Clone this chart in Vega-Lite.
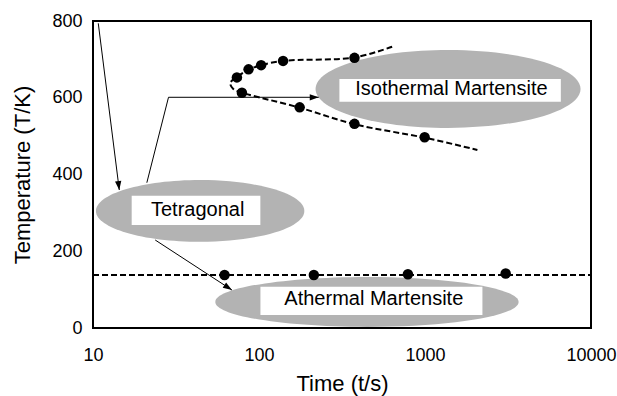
{
  "$schema": "https://vega.github.io/schema/vega-lite/v6.json",
  "width": 498,
  "height": 307,
  "autosize": {"type": "none"},
  "padding": {"left": 93, "top": 21, "right": 26, "bottom": 68},
  "background": "white",
  "config": {
    "view": {"stroke": "black", "strokeWidth": 2},
    "font": "Liberation Sans",
    "axis": {
      "grid": false,
      "domain": false,
      "ticks": false,
      "labelColor": "black",
      "titleColor": "black",
      "labelFontSize": 18,
      "titleFontSize": 22,
      "titleFontWeight": "normal",
      "labelFont": "Liberation Sans",
      "titleFont": "Liberation Sans"
    }
  },
  "datasets": {
    "curve": [
      {"t": 634, "T": 733, "o": 1},
      {"t": 376, "T": 705, "o": 2},
      {"t": 140, "T": 696, "o": 3},
      {"t": 103, "T": 685, "o": 4},
      {"t": 86.5, "T": 673, "o": 5},
      {"t": 73.6, "T": 654, "o": 6},
      {"t": 67.1, "T": 638, "o": 7},
      {"t": 70, "T": 623, "o": 8},
      {"t": 78.2, "T": 614, "o": 9},
      {"t": 176, "T": 574, "o": 10},
      {"t": 376, "T": 531, "o": 11},
      {"t": 995, "T": 496, "o": 12},
      {"t": 2068, "T": 464, "o": 13}
    ],
    "athermal": [
      {"t": 10, "T": 138},
      {"t": 10000, "T": 138}
    ],
    "dots": [
      {"t": 73.6, "T": 653},
      {"t": 86.5, "T": 674},
      {"t": 103, "T": 685},
      {"t": 139.6, "T": 696},
      {"t": 376, "T": 704},
      {"t": 78.9, "T": 613},
      {"t": 175.8, "T": 575},
      {"t": 376, "T": 532},
      {"t": 995, "T": 497},
      {"t": 62, "T": 138},
      {"t": 214, "T": 138},
      {"t": 789, "T": 140},
      {"t": 3062, "T": 142}
    ],
    "ellipses": [
      {"name": "Tetragonal", "t": 44.2, "T": 305},
      {"name": "Isothermal", "t": 1377, "T": 623},
      {"name": "Athermal", "t": 447, "T": 68}
    ],
    "boxes": [
      {"label": "Tetragonal", "t": 17.1, "t2": 101.9, "T": 268.4, "T2": 344.8, "tc": 42.7, "Tc": 307.5},
      {"label": "Isothermal Martensite", "t": 305, "t2": 6580, "T": 589.7, "T2": 648.9, "tc": 1443, "Tc": 622.8},
      {"label": "Athermal Martensite", "t": 102, "t2": 2218, "T": 33.9, "T2": 107.6, "tc": 491.6, "Tc": 75.6}
    ],
    "arrows": [
      {"a": "A1", "o": 1, "t": 10.76, "T": 794},
      {"a": "A1", "o": 2, "t": 14.4, "T": 359.6},
      {"a": "A2", "o": 1, "t": 21.1, "T": 378.6},
      {"a": "A2", "o": 2, "t": 28.5, "T": 601.2},
      {"a": "A2", "o": 3, "t": 229, "T": 601.2},
      {"a": "A3", "o": 1, "t": 23.7, "T": 229.3},
      {"a": "A3", "o": 2, "t": 68.7, "T": 99}
    ],
    "heads": [
      {"a": "A1", "t": 14.4, "T": 359.6},
      {"a": "A2", "t": 229, "T": 601.2},
      {"a": "A3", "t": 68.7, "T": 99}
    ],
    "xticks": [
      {"t": 20, "kind": "minor"}, {"t": 30, "kind": "minor"}, {"t": 40, "kind": "minor"}, {"t": 50, "kind": "minor"},
      {"t": 60, "kind": "minor"}, {"t": 70, "kind": "minor"}, {"t": 80, "kind": "minor"}, {"t": 90, "kind": "minor"},
      {"t": 100, "kind": "major"},
      {"t": 200, "kind": "minor"}, {"t": 300, "kind": "minor"}, {"t": 400, "kind": "minor"}, {"t": 500, "kind": "minor"},
      {"t": 600, "kind": "minor"}, {"t": 700, "kind": "minor"}, {"t": 800, "kind": "minor"}, {"t": 900, "kind": "minor"},
      {"t": 1000, "kind": "major"},
      {"t": 2000, "kind": "minor"}, {"t": 3000, "kind": "minor"}, {"t": 4000, "kind": "minor"}, {"t": 5000, "kind": "minor"},
      {"t": 6000, "kind": "minor"}, {"t": 7000, "kind": "minor"}, {"t": 8000, "kind": "minor"}, {"t": 9000, "kind": "minor"}
    ],
    "yticks": [
      {"T": 100, "kind": "minor"}, {"T": 200, "kind": "major"}, {"T": 300, "kind": "minor"}, {"T": 400, "kind": "major"},
      {"T": 500, "kind": "minor"}, {"T": 600, "kind": "major"}, {"T": 700, "kind": "minor"}
    ]
  },
  "encoding": {
    "x": {
      "field": "t",
      "type": "quantitative",
      "scale": {"type": "log", "domain": [10, 10000]},
      "axis": {
        "title": "Time (t/s)",
        "values": [10, 100, 1000, 10000],
        "format": "d",
        "labelPadding": 18,
        "titlePadding": 9,
        "labelFlush": false
      }
    },
    "y": {
      "field": "T",
      "type": "quantitative",
      "scale": {"domain": [0, 800]},
      "axis": {
        "title": "Temperature (T/K)",
        "values": [0, 200, 400, 600, 800],
        "format": "d",
        "labelPadding": 11,
        "titlePadding": 17,
        "labelFlush": false
      }
    }
  },
  "layer": [
    {
      "data": {"name": "ellipses"},
      "transform": [{"filter": "datum.name == 'Tetragonal'"}],
      "mark": {"type": "point", "filled": true, "fill": "#b3b3b3", "opacity": 1, "strokeWidth": 0, "shape": "M-1,0 A1,0.296 0 1,0 1,0 A1,0.296 0 1,0 -1,0 Z", "size": 43430}
    },
    {
      "data": {"name": "ellipses"},
      "transform": [{"filter": "datum.name == 'Isothermal'"}],
      "mark": {"type": "point", "filled": true, "fill": "#b3b3b3", "opacity": 1, "strokeWidth": 0, "shape": "M-1,0 A1,0.294 0 1,0 1,0 A1,0.294 0 1,0 -1,0 Z", "size": 70225}
    },
    {
      "data": {"name": "ellipses"},
      "transform": [{"filter": "datum.name == 'Athermal'"}],
      "mark": {"type": "point", "filled": true, "fill": "#b3b3b3", "opacity": 1, "strokeWidth": 0, "shape": "M-1,0 A1,0.165 0 1,0 1,0 A1,0.165 0 1,0 -1,0 Z", "size": 92000}
    },
    {
      "data": {"name": "boxes"},
      "mark": {"type": "rect", "fill": "white"},
      "encoding": {
        "x2": {"field": "t2"},
        "y2": {"field": "T2"}
      }
    },
    {
      "data": {"name": "boxes"},
      "mark": {"type": "text", "fontSize": 20, "font": "Liberation Sans", "align": "center", "baseline": "middle", "color": "black"},
      "encoding": {
        "x": {"field": "tc", "type": "quantitative"},
        "y": {"field": "Tc", "type": "quantitative"},
        "text": {"field": "label"}
      }
    },
    {
      "data": {"name": "xticks"},
      "transform": [{"filter": "datum.kind == 'major'"}],
      "mark": {"type": "rule", "color": "black", "strokeWidth": 1.5},
      "encoding": {"y": {"datum": 0}, "y2": {"datum": 16}}
    },
    {
      "data": {"name": "xticks"},
      "transform": [{"filter": "datum.kind == 'minor'"}],
      "mark": {"type": "rule", "color": "black", "strokeWidth": 1.5},
      "encoding": {"y": {"datum": 0}, "y2": {"datum": 10.5}}
    },
    {
      "data": {"name": "yticks"},
      "transform": [{"filter": "datum.kind == 'major'"}],
      "mark": {"type": "rule", "color": "black", "strokeWidth": 1.5},
      "encoding": {"x": {"datum": 10}, "x2": {"datum": 11.02}}
    },
    {
      "data": {"name": "yticks"},
      "transform": [{"filter": "datum.kind == 'minor'"}],
      "mark": {"type": "rule", "color": "black", "strokeWidth": 1.5},
      "encoding": {"x": {"datum": 10}, "x2": {"datum": 10.57}}
    },
    {
      "data": {"name": "curve"},
      "mark": {"type": "line", "color": "black", "strokeWidth": 2, "strokeDash": [6, 3], "interpolate": "catmull-rom"},
      "encoding": {"order": {"field": "o", "type": "quantitative"}}
    },
    {
      "data": {"name": "athermal"},
      "mark": {"type": "line", "color": "black", "strokeWidth": 2, "strokeDash": [6, 3]},
      "encoding": {}
    },
    {
      "data": {"name": "dots"},
      "mark": {"type": "point", "shape": "circle", "filled": true, "color": "black", "opacity": 1, "size": 110}
    },
    {
      "data": {"name": "arrows"},
      "mark": {"type": "line", "color": "black", "strokeWidth": 1},
      "encoding": {
        "detail": {"field": "a"},
        "order": {"field": "o", "type": "quantitative"}
      }
    },
    {
      "data": {"name": "heads"},
      "transform": [{"filter": "datum.a == 'A1'"}],
      "mark": {"type": "point", "filled": true, "color": "black", "opacity": 1, "shape": "M0,0 L0.35,1 L-0.35,1 Z", "size": 324, "angle": 172.8}
    },
    {
      "data": {"name": "heads"},
      "transform": [{"filter": "datum.a == 'A2'"}],
      "mark": {"type": "point", "filled": true, "color": "black", "opacity": 1, "shape": "M0,0 L0.35,1 L-0.35,1 Z", "size": 324, "angle": 90}
    },
    {
      "data": {"name": "heads"},
      "transform": [{"filter": "datum.a == 'A3'"}],
      "mark": {"type": "point", "filled": true, "color": "black", "opacity": 1, "shape": "M0,0 L0.35,1 L-0.35,1 Z", "size": 324, "angle": 123.1}
    }
  ]
}
